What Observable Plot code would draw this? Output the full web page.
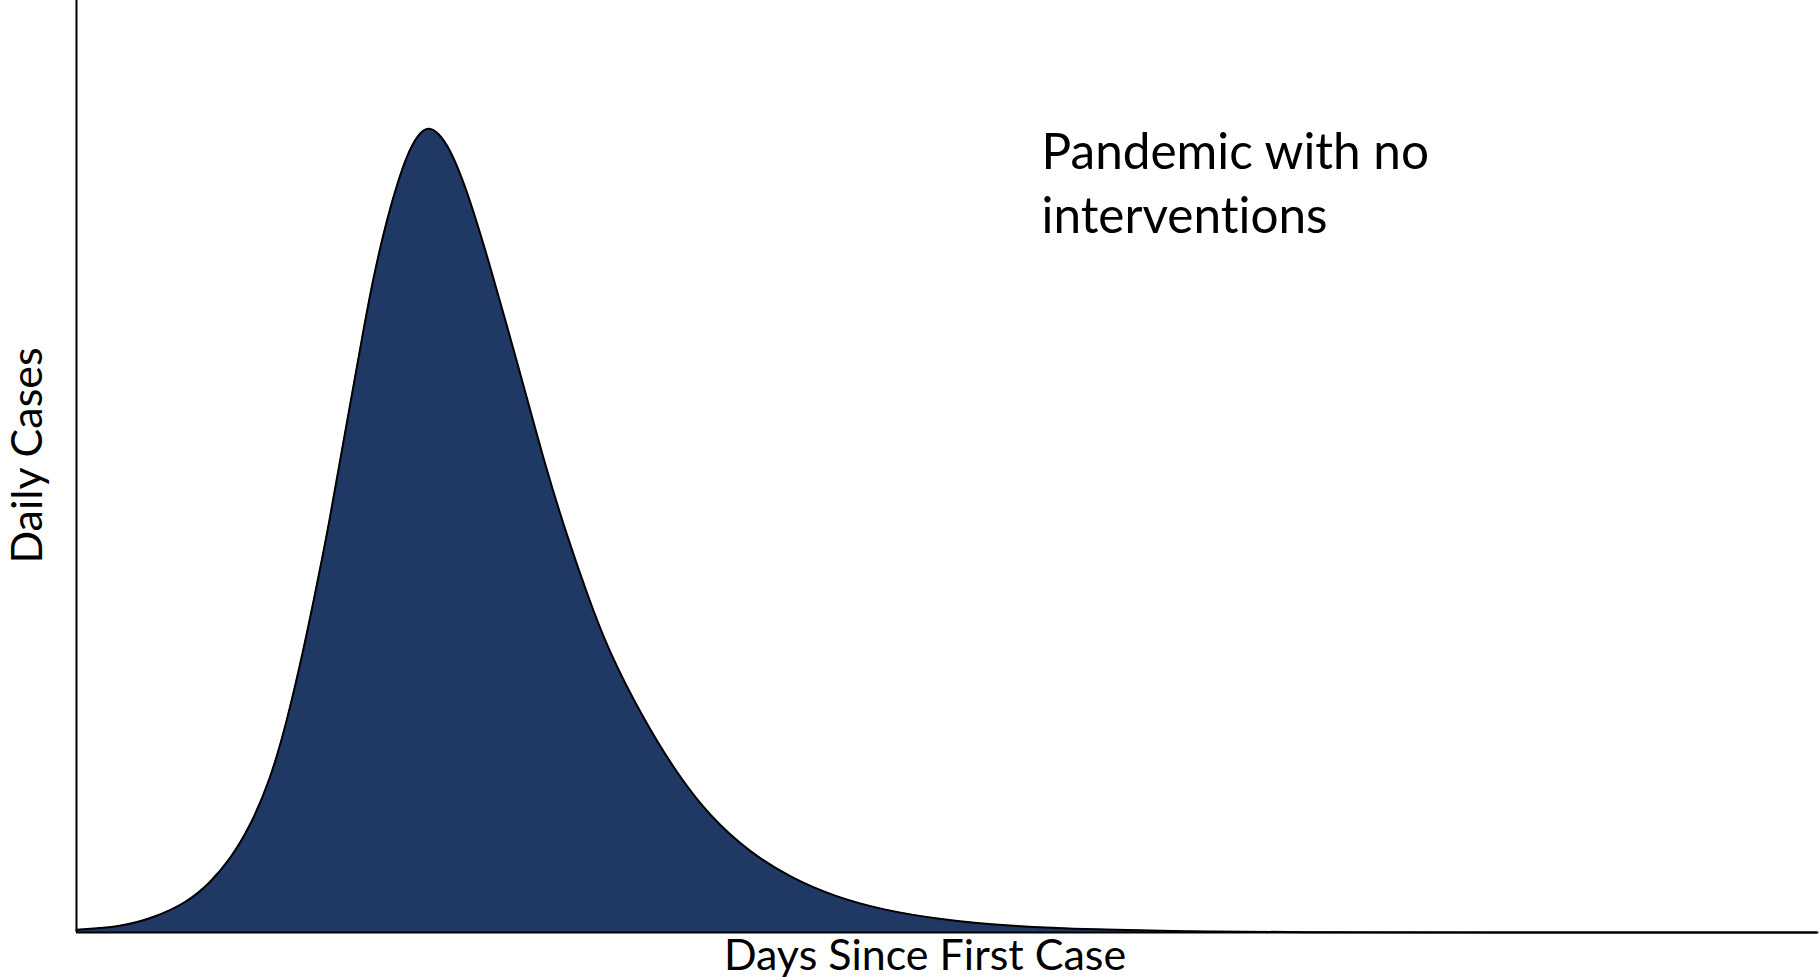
<!DOCTYPE html>
<html>
<head>
<meta charset="utf-8">
<script src="https://cdn.jsdelivr.net/npm/d3@7"></script>
<script src="https://cdn.jsdelivr.net/npm/@observablehq/plot@0.6"></script>
<style>
  html, body { margin: 0; padding: 0; background: #fff; }
  #chart { width: 1820px; height: 980px; }
  svg text { font-variant-ligatures: none; }
</style>
</head>
<body>
<div id="chart"></div>
<script>
// Days since first case (x) and daily cases (relative units, y)
const days = [0, 3.75, 6.6, 9.5, 11.5, 13.2, 14.9, 16.7, 18.1, 19.5, 20.5, 21.6, 22.5, 23.6, 24.6, 25.6, 26.8, 27.7, 28.5, 29.4, 30.3, 31.2, 32.2, 33.2, 34.1, 35.5, 37.2, 38.8, 40.5, 42.3, 44.0, 45.8, 48.8, 51.7, 54.6, 58.0, 61.5, 65.2, 69.5, 74.4, 80, 88, 95, 105, 120, 150];
const dailyCases = [0.3, 0.6, 1.55, 3.2, 5.3, 7.8, 11.2, 16.4, 22.5, 30.0, 36.0, 42.8, 49.2, 56.8, 63.8, 70.5, 76.8, 80.6, 83.5, 85.6, 86.5, 85.8, 84.0, 81.0, 77.8, 72.1, 64.6, 57.4, 49.6, 42.4, 36.3, 30.3, 23.0, 17.1, 12.4, 8.6, 5.9, 3.9, 2.4, 1.4, 0.7, 0.3, 0.12, 0.03, 0, 0];

const xLabel = "Days Since First Case";
const yLabel = "Daily Cases";
const annotationText = ["Pandemic with no\ninterventions"];
const annotationDay = [83.15];
const annotationValue = [86.9];

const xDomain = [0, 150];
const yDomain = [0, 100];

const curve = days.map((d, i) => ({day: d, cases: dailyCases[i]}));
const annotations = annotationText.map((t, i) => ({text: t, day: annotationDay[i], cases: annotationValue[i]}));

const font = "Lato, 'Open Sans', sans-serif";

const chart = Plot.plot({
  width: 1820,
  height: 980,
  marginLeft: 76,
  marginRight: 3,
  marginTop: 0,
  marginBottom: 48,
  style: {background: "#ffffff", fontFamily: font},
  x: {domain: xDomain, axis: null},
  y: {domain: yDomain, axis: null},
  marks: [
    Plot.areaY(curve, {x: "day", y: "cases", fill: "#203864", curve: "basis"}),
    Plot.lineY(curve, {x: "day", y: "cases", stroke: "#000", strokeWidth: 2, curve: "basis"}),
    Plot.ruleX([0], {stroke: "#000", strokeWidth: 2}),
    Plot.ruleY([0], {stroke: "#000", strokeWidth: 2}),
    Plot.text(annotations, {x: "day", y: "cases", text: "text", textAnchor: "start", lineAnchor: "top",
      lineHeight: 1.31, fontSize: 49.5, fontFamily: font, fill: "#000"}),
    Plot.text([xLabel], {frameAnchor: "bottom", text: d => d, textAnchor: "middle", lineAnchor: "top", dx: -22, dy: 7,
      fontSize: 43, fontFamily: font, fill: "#000"}),
    Plot.text([yLabel], {frameAnchor: "left", text: d => d, rotate: -90, textAnchor: "middle", lineAnchor: "top", dx: -65, dy: -11,
      fontSize: 43, fontFamily: font, fill: "#000"})
  ]
});
document.getElementById("chart").appendChild(chart);
</script>
</body>
</html>
